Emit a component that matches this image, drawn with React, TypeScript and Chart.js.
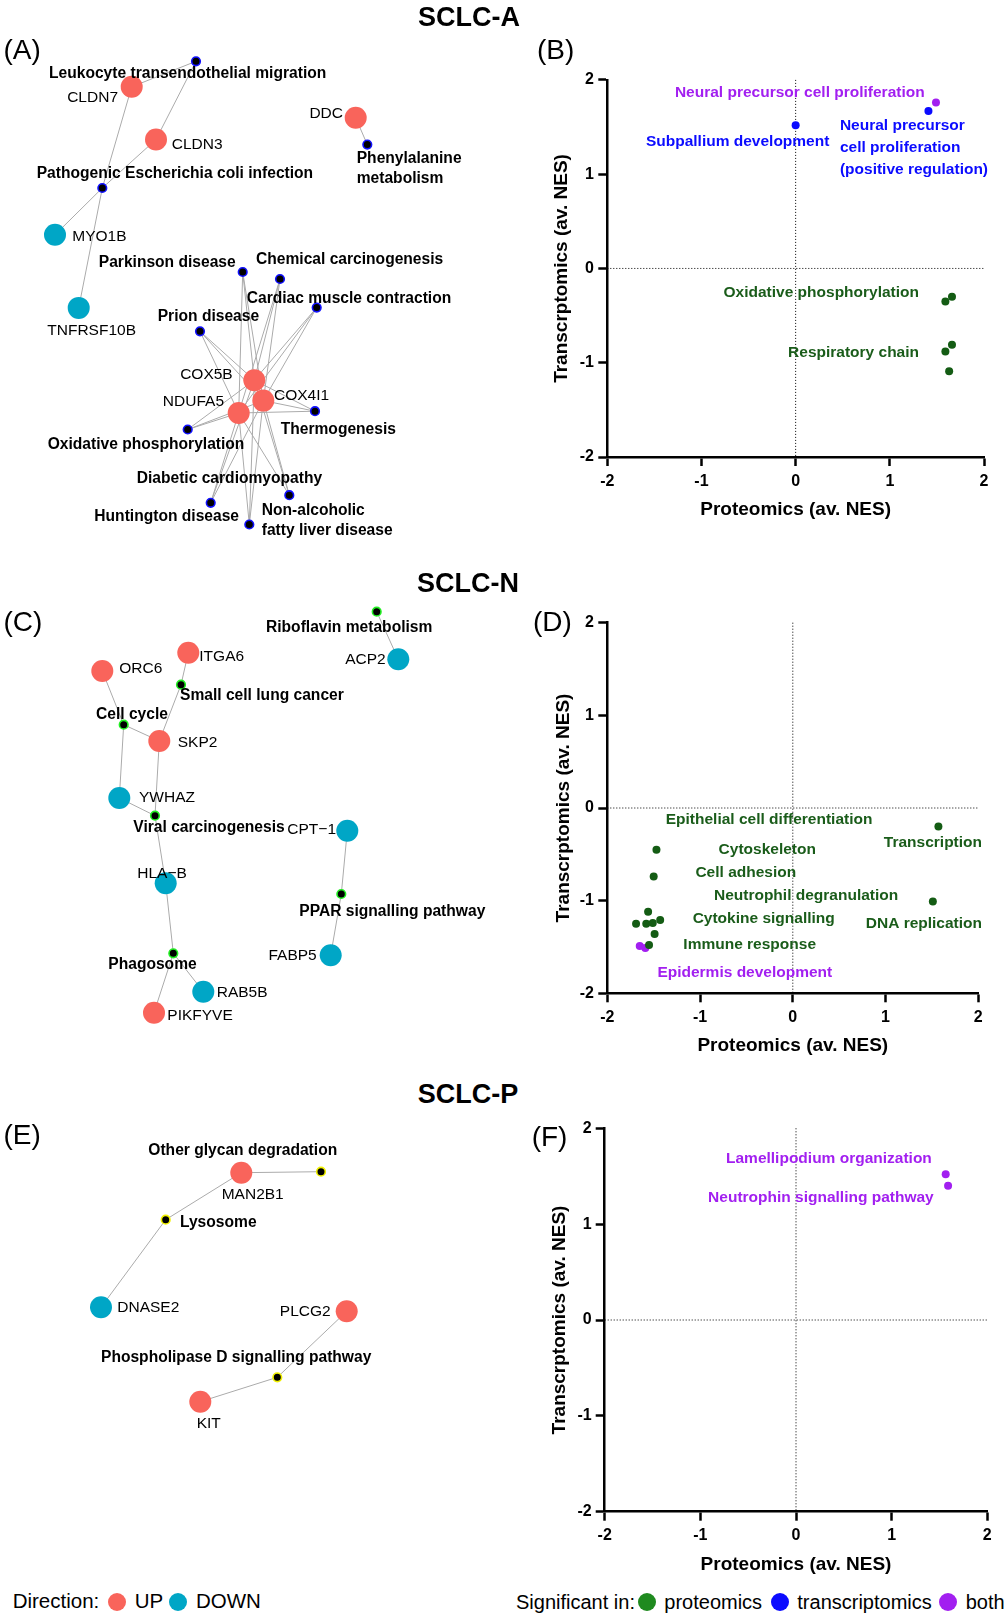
import React, { useEffect, useRef } from 'react';
import { Chart, registerables } from 'chart.js';
Chart.register(...registerables);

const FONT = '"Liberation Sans", Arial, Helvetica, sans-serif';
Chart.defaults.font.family = FONT;

const UP_COLOR = '#F9645B';
const DOWN_COLOR = '#00A6C6';
const PROT_COLOR = '#145c14';
const TRANS_COLOR = '#0b0bff';
const BOTH_COLOR = '#a21ff0';
const PROT_TEXT = '#1a5c1a';
const LEGEND_GREEN = '#1f8a1f';

// ================= DATA =================
// --- Network A (SCLC-A), layout coordinates ---
const netAGenes = ['CLDN7', 'CLDN3', 'MYO1B', 'TNFRSF10B', 'DDC', 'COX5B', 'COX4I1', 'NDUFA5'];
const netAGeneDir = ['UP', 'UP', 'DOWN', 'DOWN', 'UP', 'UP', 'UP', 'UP'];
const netAGeneX = [131.7, 156, 55, 78.7, 355.7, 254.3, 263.3, 238.7];
const netAGeneY = [86.8, 139.5, 234.8, 307.9, 117.8, 380.2, 400.6, 413.0];
const netAPaths = ['Leukocyte transendothelial migration', 'Pathogenic Escherichia coli infection', 'Phenylalanine metabolism', 'Parkinson disease', 'Chemical carcinogenesis', 'Cardiac muscle contraction', 'Prion disease', 'Thermogenesis', 'Oxidative phosphorylation', 'Diabetic cardiomyopathy', 'Huntington disease', 'Non-alcoholic fatty liver disease'];
const netAPathX = [196, 102.3, 367.3, 242.7, 280, 316.7, 200, 315, 187.7, 210.7, 249.3, 289.3];
const netAPathY = [61.3, 188.0, 144.6, 272.0, 279.0, 307.6, 331.3, 411.2, 429.5, 502.8, 524.5, 495.2];
const oxphosCluster = ['Parkinson disease', 'Chemical carcinogenesis', 'Cardiac muscle contraction', 'Prion disease', 'Thermogenesis', 'Oxidative phosphorylation', 'Diabetic cardiomyopathy', 'Huntington disease', 'Non-alcoholic fatty liver disease'];
const netAEdges: [string, string][] = [
  ['CLDN7', 'Leukocyte transendothelial migration'],
  ['CLDN3', 'Leukocyte transendothelial migration'],
  ['CLDN7', 'Pathogenic Escherichia coli infection'],
  ['CLDN3', 'Pathogenic Escherichia coli infection'],
  ['MYO1B', 'Pathogenic Escherichia coli infection'],
  ['TNFRSF10B', 'Pathogenic Escherichia coli infection'],
  ['DDC', 'Phenylalanine metabolism'],
  ...oxphosCluster.flatMap((p) => [['COX5B', p], ['COX4I1', p], ['NDUFA5', p]] as [string, string][]),
];

// --- Network C (SCLC-N) ---
const netCGenes = ['ITGA6', 'ORC6', 'SKP2', 'YWHAZ', 'ACP2', 'CPT−1', 'HLA−B', 'FABP5', 'RAB5B', 'PIKFYVE'];
const netCGeneDir = ['UP', 'UP', 'UP', 'DOWN', 'DOWN', 'DOWN', 'DOWN', 'DOWN', 'DOWN', 'UP'];
const netCGeneX = [188.3, 102.3, 159.3, 119.3, 398.3, 347.3, 165.7, 330.7, 203.3, 154];
const netCGeneY = [652.7, 671, 741, 798, 659.3, 830.7, 883.3, 955.3, 991.7, 1012.7];
const netCPaths = ['Riboflavin metabolism', 'Small cell lung cancer', 'Cell cycle', 'Viral carcinogenesis', 'PPAR signalling pathway', 'Phagosome'];
const netCPathX = [376.7, 181, 123.7, 155, 341.3, 173.3];
const netCPathY = [611.7, 684.7, 724.7, 815.7, 894, 953.3];
const netCEdges: [string, string][] = [
  ['ACP2', 'Riboflavin metabolism'],
  ['ITGA6', 'Small cell lung cancer'],
  ['SKP2', 'Small cell lung cancer'],
  ['ORC6', 'Cell cycle'],
  ['SKP2', 'Cell cycle'],
  ['YWHAZ', 'Cell cycle'],
  ['SKP2', 'Viral carcinogenesis'],
  ['YWHAZ', 'Viral carcinogenesis'],
  ['HLA−B', 'Viral carcinogenesis'],
  ['HLA−B', 'Phagosome'],
  ['RAB5B', 'Phagosome'],
  ['PIKFYVE', 'Phagosome'],
  ['CPT−1', 'PPAR signalling pathway'],
  ['FABP5', 'PPAR signalling pathway'],
];

// --- Network E (SCLC-P) ---
const netEGenes = ['MAN2B1', 'DNASE2', 'PLCG2', 'KIT'];
const netEGeneDir = ['UP', 'DOWN', 'UP', 'UP'];
const netEGeneX = [241.3, 101, 346.7, 200.3];
const netEGeneY = [1172.7, 1307.3, 1311.3, 1401.7];
const netEPaths = ['Other glycan degradation', 'Lysosome', 'Phospholipase D signalling pathway'];
const netEPathX = [321, 165.7, 277.3];
const netEPathY = [1171.7, 1219.7, 1377.3];
const netEEdges: [string, string][] = [
  ['MAN2B1', 'Other glycan degradation'],
  ['MAN2B1', 'Lysosome'],
  ['DNASE2', 'Lysosome'],
  ['PLCG2', 'Phospholipase D signalling pathway'],
  ['KIT', 'Phospholipase D signalling pathway'],
];

// --- Scatter B (SCLC-A) ---
const bProtX = [1.59, 1.66, 1.66, 1.59, 1.63];
const bProtY = [-0.35, -0.3, -0.81, -0.88, -1.09];
const bTransX = [0.0, 1.41];
const bTransY = [1.52, 1.67];
const bBothX = [1.49];
const bBothY = [1.76];

// --- Scatter D (SCLC-N) ---
const dProtX = [1.57, 1.51, -1.47, -1.5, -1.56, -1.69, -1.58, -1.51, -1.43, -1.49, -1.55];
const dProtY = [-0.2, -1.01, -0.45, -0.74, -1.12, -1.25, -1.25, -1.24, -1.21, -1.36, -1.48];
const dBothX = [-1.65, -1.59];
const dBothY = [-1.49, -1.51];

// --- Scatter F (SCLC-P) ---
const fBothX = [1.565, 1.59];
const fBothY = [1.52, 1.4];

const axisTicks = [-2, -1, 0, 1, 2];

// ================= LAYOUT (label anchors) =================
type Lbl = { t: string; x: number; y: number; a: CanvasTextAlign; bold?: boolean; color?: string; size?: number; lh?: number };

const netALabels: Lbl[] = [
  { t: 'Leukocyte transendothelial migration', x: 49, y: 73.4, a: 'left', bold: true },
  { t: 'CLDN7', x: 118, y: 97.4, a: 'right' },
  { t: 'CLDN3', x: 171.7, y: 144.6, a: 'left' },
  { t: 'DDC', x: 343, y: 113.6, a: 'right' },
  { t: 'Phenylalanine\nmetabolism', x: 356.7, y: 159.1, a: 'left', bold: true, lh: 19.3 },
  { t: 'Pathogenic Escherichia coli infection', x: 36.7, y: 173.3, a: 'left', bold: true },
  { t: 'MYO1B', x: 72.3, y: 236.9, a: 'left' },
  { t: 'TNFRSF10B', x: 47.3, y: 330.6, a: 'left' },
  { t: 'Parkinson disease', x: 235.7, y: 262.4, a: 'right', bold: true },
  { t: 'Chemical carcinogenesis', x: 256, y: 259.3, a: 'left', bold: true },
  { t: 'Cardiac muscle contraction', x: 246.7, y: 298.3, a: 'left', bold: true },
  { t: 'Prion disease', x: 157.7, y: 316.5, a: 'left', bold: true },
  { t: 'COX5B', x: 232.7, y: 374.3, a: 'right' },
  { t: 'COX4I1', x: 274, y: 396.0, a: 'left' },
  { t: 'NDUFA5', x: 224, y: 401.9, a: 'right' },
  { t: 'Thermogenesis', x: 280.7, y: 429.8, a: 'left', bold: true },
  { t: 'Oxidative phosphorylation', x: 47.7, y: 444.3, a: 'left', bold: true },
  { t: 'Diabetic cardiomyopathy', x: 136.7, y: 478.7, a: 'left', bold: true },
  { t: 'Huntington disease', x: 239, y: 516.6, a: 'right', bold: true },
  { t: 'Non-alcoholic\nfatty liver disease', x: 261.7, y: 510.7, a: 'left', bold: true, lh: 19.6 },
];

const netCLabels: Lbl[] = [
  { t: 'Riboflavin metabolism', x: 266, y: 627.3, a: 'left', bold: true },
  { t: 'ITGA6', x: 199.3, y: 656.7, a: 'left' },
  { t: 'ORC6', x: 119.3, y: 669, a: 'left' },
  { t: 'ACP2', x: 385.7, y: 660, a: 'right' },
  { t: 'Small cell lung cancer', x: 180, y: 696, a: 'left', bold: true },
  { t: 'Cell cycle', x: 96, y: 714.3, a: 'left', bold: true },
  { t: 'SKP2', x: 177.7, y: 742.3, a: 'left' },
  { t: 'YWHAZ', x: 139, y: 797.7, a: 'left' },
  { t: 'Viral carcinogenesis', x: 133.3, y: 827.3, a: 'left', bold: true },
  { t: 'CPT−1', x: 336, y: 830, a: 'right' },
  { t: 'HLA−B', x: 137.3, y: 873.3, a: 'left' },
  { t: 'PPAR signalling pathway', x: 299.3, y: 911.7, a: 'left', bold: true },
  { t: 'FABP5', x: 316.7, y: 956, a: 'right' },
  { t: 'Phagosome', x: 108.3, y: 965, a: 'left', bold: true },
  { t: 'RAB5B', x: 216.7, y: 992.7, a: 'left' },
  { t: 'PIKFYVE', x: 167.3, y: 1016, a: 'left' },
];

const netELabels: Lbl[] = [
  { t: 'Other glycan degradation', x: 148.3, y: 1151, a: 'left', bold: true },
  { t: 'MAN2B1', x: 221.7, y: 1195, a: 'left' },
  { t: 'Lysosome', x: 180, y: 1222.7, a: 'left', bold: true },
  { t: 'DNASE2', x: 117.3, y: 1307.7, a: 'left' },
  { t: 'PLCG2', x: 330.7, y: 1311.7, a: 'right' },
  { t: 'Phospholipase D signalling pathway', x: 101, y: 1357.3, a: 'left', bold: true },
  { t: 'KIT', x: 196.7, y: 1423.3, a: 'left' },
];

// scatter label anchors, in axis units
const bLabels: Lbl[] = [
  { t: 'Neural precursor cell proliferation', x: 1.37, y: 1.86, a: 'right', color: BOTH_COLOR },
  { t: 'Subpallium development', x: -1.59, y: 1.34, a: 'left', color: TRANS_COLOR },
  { t: 'Neural precursor\ncell proliferation\n(positive regulation)', x: 0.47, y: 1.51, a: 'left', color: TRANS_COLOR, lh: 22 },
  { t: 'Oxidative phosphorylation', x: 1.31, y: -0.26, a: 'right', color: PROT_TEXT },
  { t: 'Respiratory chain', x: 1.31, y: -0.89, a: 'right', color: PROT_TEXT },
];
const dLabels: Lbl[] = [
  { t: 'Epithelial cell differentiation', x: -1.37, y: -0.13, a: 'left', color: PROT_TEXT },
  { t: 'Cytoskeleton', x: -0.8, y: -0.45, a: 'left', color: PROT_TEXT },
  { t: 'Cell adhesion', x: -1.05, y: -0.7, a: 'left', color: PROT_TEXT },
  { t: 'Neutrophil degranulation', x: -0.85, y: -0.95, a: 'left', color: PROT_TEXT },
  { t: 'Cytokine signalling', x: -1.08, y: -1.19, a: 'left', color: PROT_TEXT },
  { t: 'Immune response', x: -1.18, y: -1.48, a: 'left', color: PROT_TEXT },
  { t: 'Epidermis development', x: -1.46, y: -1.78, a: 'left', color: BOTH_COLOR },
  { t: 'Transcription', x: 2.04, y: -0.38, a: 'right', color: PROT_TEXT },
  { t: 'DNA replication', x: 2.04, y: -1.25, a: 'right', color: PROT_TEXT },
];
const fLabels: Lbl[] = [
  { t: 'Lamellipodium organization', x: 1.42, y: 1.68, a: 'right', color: BOTH_COLOR },
  { t: 'Neutrophin signalling pathway', x: 1.44, y: 1.28, a: 'right', color: BOTH_COLOR },
];

// ================= PLUGINS =================
function textPlugin(items: Lbl[], defSize: number, defBoldSize: number, allBold: boolean) {
  return {
    id: 'textLabels',
    afterDatasetsDraw(chart: any) {
      const { ctx } = chart;
      const xs = chart.scales.x;
      const ys = chart.scales.y;
      ctx.save();
      for (const it of items) {
        const bold = allBold || it.bold;
        const size = it.size ?? (bold ? defBoldSize : defSize);
        ctx.font = `${bold ? 'bold ' : ''}${size}px ${FONT}`;
        ctx.fillStyle = it.color ?? '#000';
        ctx.textAlign = it.a;
        ctx.textBaseline = 'middle';
        const px = xs.getPixelForValue(it.x);
        const py = ys.getPixelForValue(it.y);
        it.t.split('\n').forEach((line, i) => ctx.fillText(line, px, py + i * (it.lh ?? size * 1.25)));
      }
      ctx.restore();
    },
  };
}

const zeroLinesPlugin = {
  id: 'zeroLines',
  beforeDatasetsDraw(chart: any) {
    const { ctx, chartArea } = chart;
    const px = chart.scales.x.getPixelForValue(0);
    const py = chart.scales.y.getPixelForValue(0);
    ctx.save();
    ctx.strokeStyle = '#000';
    ctx.lineWidth = 1;
    ctx.setLineDash([1, 2]);
    ctx.beginPath();
    ctx.moveTo(px, chartArea.top);
    ctx.lineTo(px, chartArea.bottom);
    ctx.moveTo(chartArea.left, py);
    ctx.lineTo(chartArea.right, py);
    ctx.stroke();
    ctx.restore();
  },
};

// ================= CONFIG BUILDERS =================
function networkConfig(
  genes: string[], dir: string[], gx: number[], gy: number[],
  paths: string[], px: number[], py: number[], edges: [string, string][],
  pathBorder: string, labels: Lbl[], frame: { x0: number; x1: number; y0: number; y1: number }
): any {
  const pos = (n: string) => {
    const gi = genes.indexOf(n);
    if (gi >= 0) return { x: gx[gi], y: gy[gi] };
    const pi = paths.indexOf(n);
    return { x: px[pi], y: py[pi] };
  };
  const datasets: any[] = edges.map(([a, b]) => ({
    data: [pos(a), pos(b)],
    showLine: true,
    borderColor: '#ababab',
    borderWidth: 1,
    pointRadius: 0,
    order: 3,
  }));
  datasets.push({
    data: paths.map((_, i) => ({ x: px[i], y: py[i] })),
    pointRadius: 4.3,
    pointBackgroundColor: '#000',
    pointBorderColor: pathBorder,
    pointBorderWidth: 1.6,
    order: 2,
  });
  datasets.push({
    data: genes.map((_, i) => ({ x: gx[i], y: gy[i] })),
    pointRadius: 11,
    pointBackgroundColor: dir.map((d) => (d === 'UP' ? UP_COLOR : DOWN_COLOR)),
    pointBorderWidth: 0,
    order: 1,
  });
  return {
    type: 'scatter',
    data: { datasets },
    options: {
      responsive: false,
      animation: false,
      events: [],
      devicePixelRatio: 1,
      layout: { padding: 0, autoPadding: false },
      plugins: { legend: { display: false }, tooltip: { enabled: false } },
      scales: {
        x: { type: 'linear', display: false, min: frame.x0, max: frame.x1 },
        y: { type: 'linear', display: false, min: frame.y0, max: frame.y1, reverse: true },
      },
    },
    plugins: [textPlugin(labels, 15.5, 15.6, false)],
  };
}

type ScatterGeom = {
  padTop: number; padRight: number; yWidth: number; xHeight: number;
  yTitlePad: number; xTitlePad: number; xTickPad: number; yTickPad: number;
};

function scatterConfig(
  groups: { x: number[]; y: number[]; color: string }[],
  labels: Lbl[], g: ScatterGeom
): any {
  const datasets = groups.map((grp) => ({
    data: grp.x.map((v, i) => ({ x: v, y: grp.y[i] })),
    pointRadius: 4,
    pointBackgroundColor: grp.color,
    pointBorderWidth: 0,
  }));
  const tickFont = { size: 16, weight: 'bold' as const };
  const titleFont = { size: 19, weight: 'bold' as const };
  const grid = { display: true, drawOnChartArea: false, drawTicks: true, tickLength: 9, tickWidth: 2.5, tickColor: '#000' };
  const border = { display: true, width: 2.5, color: '#000' };
  return {
    type: 'scatter',
    data: { datasets },
    options: {
      responsive: false,
      animation: false,
      events: [],
      devicePixelRatio: 1,
      layout: { padding: { left: 0, top: g.padTop, right: g.padRight, bottom: 0 }, autoPadding: false },
      plugins: { legend: { display: false }, tooltip: { enabled: false } },
      scales: {
        x: {
          type: 'linear', min: -2, max: 2,
          afterBuildTicks: (s: any) => { s.ticks = axisTicks.map((v) => ({ value: v })); },
          ticks: { font: tickFont, color: '#000', padding: g.xTickPad, maxRotation: 0, autoSkip: false },
          grid, border,
          title: { display: true, text: 'Proteomics (av. NES)', font: titleFont, color: '#000', padding: { top: 0, bottom: g.xTitlePad } },
          afterFit: (s: any) => { s.height = g.xHeight; },
        },
        y: {
          type: 'linear', min: -2, max: 2,
          afterBuildTicks: (s: any) => { s.ticks = axisTicks.map((v) => ({ value: v })); },
          ticks: { font: tickFont, color: '#000', padding: g.yTickPad, autoSkip: false },
          grid, border,
          title: { display: true, text: 'Transcrptomics (av. NES)', font: titleFont, color: '#000', padding: { top: g.yTitlePad, bottom: 0 } },
          afterFit: (s: any) => { s.width = g.yWidth; },
        },
      },
    },
    plugins: [zeroLinesPlugin, textPlugin(labels, 15.5, 15.5, true)],
  };
}

// ================= COMPONENTS =================
function ChartCanvas({ left, top, width, height, build }: { left: number; top: number; width: number; height: number; build: () => any }) {
  const ref = useRef<HTMLCanvasElement>(null);
  useEffect(() => {
    const chart = new Chart(ref.current as HTMLCanvasElement, build());
    return () => chart.destroy();
  }, []);
  return (
    <canvas
      ref={ref}
      width={width}
      height={height}
      style={{ position: 'absolute', left, top, width, height }}
    />
  );
}

function Txt({ text, left, cy, size, bold, center, color }: { text: string; left: number; cy: number; size: number; bold?: boolean; center?: boolean; color?: string }) {
  return (
    <div
      style={{
        position: 'absolute',
        left,
        top: cy - size / 2,
        fontSize: size,
        lineHeight: `${size}px`,
        fontWeight: bold ? 'bold' : 'normal',
        whiteSpace: 'nowrap',
        fontFamily: FONT,
        color: color ?? '#000',
        transform: center ? 'translateX(-50%)' : undefined,
        zIndex: 2,
      }}
    >
      {text}
    </div>
  );
}

function Dot({ cx, cy, color }: { cx: number; cy: number; color: string }) {
  return (
    <div style={{ position: 'absolute', left: cx - 9, top: cy - 9, width: 18, height: 18, borderRadius: '50%', background: color }} />
  );
}

export default function App() {
  return (
    <div style={{ position: 'absolute', left: 0, top: 0, width: 1006, height: 1617, background: '#fff', overflow: 'hidden', fontFamily: FONT }}>
      {/* Network A */}
      <ChartCanvas left={0} top={30} width={505} height={520}
        build={() => networkConfig(netAGenes, netAGeneDir, netAGeneX, netAGeneY, netAPaths, netAPathX, netAPathY, netAEdges, '#1010ff', netALabels, { x0: 0, x1: 505, y0: 30, y1: 550 })} />
      {/* Network C */}
      <ChartCanvas left={0} top={595} width={505} height={445}
        build={() => networkConfig(netCGenes, netCGeneDir, netCGeneX, netCGeneY, netCPaths, netCPathX, netCPathY, netCEdges, '#22ee22', netCLabels, { x0: 0, x1: 505, y0: 595, y1: 1040 })} />
      {/* Network E */}
      <ChartCanvas left={0} top={1110} width={505} height={340}
        build={() => networkConfig(netEGenes, netEGeneDir, netEGeneX, netEGeneY, netEPaths, netEPathX, netEPathY, netEEdges, '#f0f000', netELabels, { x0: 0, x1: 505, y0: 1110, y1: 1450 })} />

      {/* Scatter B */}
      <ChartCanvas left={520} top={60} width={486} height={470}
        build={() => scatterConfig(
          [{ x: bProtX, y: bProtY, color: PROT_COLOR }, { x: bTransX, y: bTransY, color: TRANS_COLOR }, { x: bBothX, y: bBothY, color: BOTH_COLOR }],
          bLabels,
          { padTop: 19.9, padRight: 22, yWidth: 87.3, xHeight: 73, yTitlePad: 30.6, xTitlePad: 9.2, xTickPad: 5.5, yTickPad: 4.3 }
        )} />
      {/* Scatter D */}
      <ChartCanvas left={520} top={600} width={486} height={460}
        build={() => scatterConfig(
          [{ x: dProtX, y: dProtY, color: PROT_COLOR }, { x: dBothX, y: dBothY, color: BOTH_COLOR }],
          dLabels,
          { padTop: 22.7, padRight: 27.7, yWidth: 87.3, xHeight: 66.7, yTitlePad: 31.9, xTitlePad: 3.0, xTickPad: 5.4, yTickPad: 4.3 }
        )} />
      {/* Scatter F */}
      <ChartCanvas left={520} top={1105} width={486} height={475}
        build={() => scatterConfig(
          [{ x: fBothX, y: fBothY, color: BOTH_COLOR }],
          fLabels,
          { padTop: 23.3, padRight: 18.7, yWidth: 84.7, xHeight: 68.3, yTitlePad: 27.9, xTitlePad: 4.0, xTickPad: 5.7, yTickPad: 4 }
        )} />

      {/* Titles */}
      <Txt text="SCLC-A" left={469} cy={17} size={27} bold center />
      <Txt text="SCLC-N" left={468} cy={583.5} size={27} bold center />
      <Txt text="SCLC-P" left={468} cy={1094} size={27} bold center />

      {/* Panel letters */}
      <Txt text="(A)" left={3.5} cy={50} size={28} />
      <Txt text="(B)" left={537} cy={50} size={28} />
      <Txt text="(C)" left={3.5} cy={621.7} size={28} />
      <Txt text="(D)" left={533} cy={621.7} size={28} />
      <Txt text="(E)" left={3.5} cy={1135} size={28} />
      <Txt text="(F)" left={531.7} cy={1136.7} size={28} />

      {/* Legends */}
      <Txt text="Direction:" left={12.7} cy={1601.7} size={20.5} />
      <Dot cx={116.7} cy={1601.7} color={UP_COLOR} />
      <Txt text="UP" left={134.7} cy={1601.7} size={20.5} />
      <Dot cx={178.3} cy={1601.7} color={DOWN_COLOR} />
      <Txt text="DOWN" left={196} cy={1601.7} size={20.5} />

      <Txt text="Significant in:" left={516} cy={1601.7} size={20} />
      <Dot cx={646.7} cy={1601.7} color={LEGEND_GREEN} />
      <Txt text="proteomics" left={664.3} cy={1601.7} size={20} />
      <Dot cx={780} cy={1601.7} color={TRANS_COLOR} />
      <Txt text="transcriptomics" left={797.3} cy={1601.7} size={20} />
      <Dot cx={948.3} cy={1601.7} color={BOTH_COLOR} />
      <Txt text="both" left={965.7} cy={1601.7} size={20} />
    </div>
  );
}
